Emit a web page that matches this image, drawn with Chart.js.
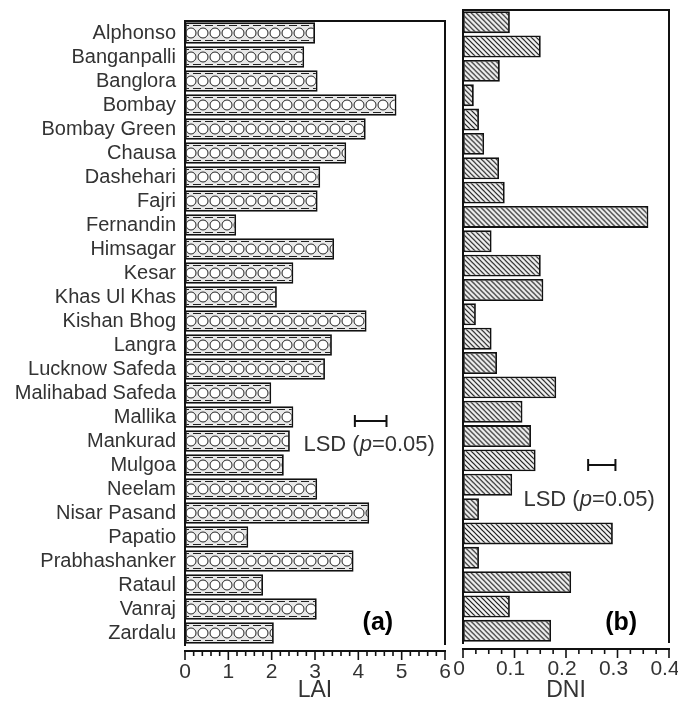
<!DOCTYPE html>
<html>
<head>
<meta charset="utf-8">
<script src="https://cdn.jsdelivr.net/npm/chart.js@4.4.0/dist/chart.umd.min.js"></script>
<style>
    body { margin: 0; background: #fff; }
    #boxA { position: absolute; left: 0; top: 0; width: 455px; height: 706px; }
    #boxB { position: absolute; left: 452px; top: 0; width: 226px; height: 706px; }
</style>
</head>
<body>
<div id="boxA"><canvas id="laiChart"></canvas></div>
<div id="boxB"><canvas id="dniChart"></canvas></div>
<script>
var cultivars = ["Alphonso", "Banganpalli", "Banglora", "Bombay", "Bombay Green", "Chausa", "Dashehari",
    "Fajri", "Fernandin", "Himsagar", "Kesar", "Khas Ul Khas", "Kishan Bhog", "Langra", "Lucknow Safeda",
    "Malihabad Safeda", "Mallika", "Mankurad", "Mulgoa", "Neelam", "Nisar Pasand", "Papatio",
    "Prabhashanker", "Rataul", "Vanraj", "Zardalu"];
var laiValues = [3.0, 2.75, 3.06, 4.88, 4.17, 3.72, 3.12, 3.06, 1.18, 3.44, 2.5, 2.12, 4.19,
    3.39, 3.23, 1.99, 2.5, 2.42, 2.28, 3.05, 4.25, 1.46, 3.89, 1.8, 3.04, 2.05];
var dniValues = [0.091, 0.151, 0.0715, 0.021, 0.031, 0.041, 0.07, 0.081, 0.36, 0.0555, 0.151, 0.156, 0.025,
    0.0555, 0.066, 0.181, 0.1155, 0.132, 0.141, 0.0955, 0.031, 0.291, 0.031, 0.21, 0.091, 0.171];
var laiTicks = [0, 1, 2, 3, 4, 5, 6];
var dniTicks = [0, 0.1, 0.2, 0.3, 0.4];
var laiLsd = [3.92, 4.65];
var dniLsd = [0.243, 0.296];

var FONT = "'Liberation Sans', Arial, Helvetica, sans-serif";
var INK = "#111";
var TEXT = "#333";

// pattern tiles for the bar fills
function circleTile() {
    var c = document.createElement("canvas");
    c.width = 12; c.height = 22;
    var g = c.getContext("2d");
    g.fillStyle = "#e8e8e8"; g.fillRect(0, 0, 12, 22);
    g.strokeStyle = "#222"; g.lineWidth = 1;
    g.beginPath(); g.moveTo(0, 3.5); g.lineTo(4, 3.5); g.moveTo(8, 3.5); g.lineTo(12, 3.5);
    g.moveTo(0, 18.5); g.lineTo(4, 18.5); g.moveTo(8, 18.5); g.lineTo(12, 18.5); g.stroke();
    g.beginPath(); g.arc(6, 11, 5, 0, Math.PI * 2);
    g.fillStyle = "#fff"; g.fill(); g.stroke();
    return c;
}
function hatchTile() {
    var c = document.createElement("canvas");
    c.width = 5; c.height = 5;
    var g = c.getContext("2d");
    g.fillStyle = "#f2f2f2"; g.fillRect(0, 0, 5, 5);
    g.strokeStyle = "#1a1a1a"; g.lineWidth = 1.2;
    g.beginPath();
    g.moveTo(-1, -1); g.lineTo(6, 6);
    g.moveTo(4, -1); g.lineTo(6, 1);
    g.moveTo(-1, 4); g.lineTo(1, 6);
    g.stroke();
    return c;
}
function barFill(tile) {
    return function (ctx) {
        var chart = ctx.chart, ys = chart.scales.y;
        if (ctx.type !== "data" || !chart.chartArea || !ys) return "#eee";
        var pat = chart.ctx.createPattern(tile, "repeat");
        var yc = ys.getPixelForValue(ctx.dataIndex);
        pat.setTransform(new DOMMatrix([1, 0, 0, 1, chart.chartArea.left, yc - tile.height / 2]));
        return pat;
    };
}

function drawLsdLabel(g, cx, cy) {
    var a = "LSD (", b = "p", c = "=0.05)";
    var normal = "22px " + FONT, italic = "italic 22px " + FONT;
    g.font = normal; var wa = g.measureText(a).width, wc = g.measureText(c).width;
    g.font = italic; var wb = g.measureText(b).width;
    var x = cx - (wa + wb + wc) / 2;
    g.fillStyle = TEXT; g.textBaseline = "middle"; g.textAlign = "left";
    g.font = normal; g.fillText(a, x, cy);
    g.font = italic; g.fillText(b, x + wa, cy);
    g.font = normal; g.fillText(c, x + wa + wb, cy);
}

// frame, offset x axis with minor ticks, LSD bar and panel letter
function panelPlugin(cfg) {
    return {
        id: "panel",
        afterDraw: function (chart) {
            var a = chart.chartArea, g = chart.ctx, xs = chart.scales.x, ys = chart.scales.y;
            g.save();
            g.strokeStyle = INK; g.lineWidth = 2;
            g.beginPath();
            g.moveTo(a.left, a.top); g.lineTo(a.right, a.top); g.lineTo(a.right, a.bottom);
            g.stroke();

            var ay = a.bottom + 6;
            g.beginPath(); g.moveTo(a.left - 1, ay); g.lineTo(a.right + 1, ay); g.stroke();
            g.lineWidth = 1.6;
            var n = Math.round((xs.max - xs.min) / cfg.minorStep);
            for (var i = 0; i <= n; i++) {
                var x = xs.getPixelForValue(xs.min + i * cfg.minorStep);
                var len = (i % cfg.minorPerMajor === 0) ? 9 : 5;
                g.beginPath(); g.moveTo(x, ay); g.lineTo(x, ay + len); g.stroke();
            }

            // LSD interval
            var ly = ys.getPixelForValue(cfg.lsdRow);
            var x0 = xs.getPixelForValue(cfg.lsd[0]), x1 = xs.getPixelForValue(cfg.lsd[1]);
            g.lineWidth = 2;
            g.beginPath();
            g.moveTo(x0, ly); g.lineTo(x1, ly);
            g.moveTo(x0, ly - 6); g.lineTo(x0, ly + 6);
            g.moveTo(x1, ly - 6); g.lineTo(x1, ly + 6);
            g.stroke();
            drawLsdLabel(g, xs.getPixelForValue(cfg.labelAt[0]), ys.getPixelForValue(cfg.labelAt[1]));

            g.fillStyle = "#000"; g.font = "bold 25px " + FONT;
            g.textAlign = "center"; g.textBaseline = "middle";
            g.fillText(cfg.letter, xs.getPixelForValue(cfg.letterAt[0]), ys.getPixelForValue(cfg.letterAt[1]));
            g.restore();
        }
    };
}

function makeChart(id, opt) {
    return new Chart(document.getElementById(id).getContext("2d"), {
        type: "bar",
        data: {
            labels: cultivars,
            datasets: [{
                data: opt.values,
                backgroundColor: barFill(opt.tile),
                borderColor: INK,
                borderWidth: 1.8,
                borderSkipped: false,
                barPercentage: 0.9,
                categoryPercentage: 1
            }]
        },
        options: {
            indexAxis: "y",
            responsive: true,
            maintainAspectRatio: false,
            animation: false,
            layout: { padding: opt.padding },
            plugins: { legend: { display: false }, tooltip: { enabled: false } },
            scales: {
                x: {
                    type: "linear",
                    min: opt.ticks[0],
                    max: opt.ticks[opt.ticks.length - 1],
                    afterBuildTicks: function (s) { s.ticks = opt.ticks.map(function (v) { return { value: v }; }); },
                    ticks: {
                        padding: opt.tickPad,
                        labelOffset: opt.labelOffset,
                        maxRotation: 0,
                        autoSkip: false,
                        color: TEXT,
                        font: { family: FONT, size: 21 },
                        callback: function (v) { return String(v); }
                    },
                    grid: { display: false, drawTicks: false },
                    border: { display: false },
                    title: { display: true, text: opt.title, color: TEXT, padding: 0,
                             font: { family: FONT, size: 23 } },
                    afterFit: function (s) { s.height = opt.xHeight; s.paddingLeft = 0; s.paddingRight = 0; }
                },
                y: {
                    ticks: {
                        display: opt.showLabels,
                        autoSkip: false,
                        padding: 9,
                        color: TEXT,
                        font: { family: FONT, size: 20 }
                    },
                    grid: { display: false, drawTicks: false },
                    border: { display: true, color: INK, width: 2 },
                    afterFit: function (s) { s.width = opt.yWidth; }
                }
            }
        },
        plugins: [panelPlugin(opt.panel)]
    });
}

document.addEventListener("DOMContentLoaded", function () {
    // (a) leaf area index
    makeChart("laiChart", {
        values: laiValues, tile: circleTile(), ticks: laiTicks, title: "LAI",
        padding: { top: 12, right: 10, left: 0, bottom: 2 },
        xHeight: 59, yWidth: 185, tickPad: 15, labelOffset: 0, showLabels: true,
        panel: { minorStep: 0.2, minorPerMajor: 5, lsd: laiLsd, lsdRow: 16.17,
                 labelAt: [4.25, 17.16], letter: "(a)", letterAt: [4.45, 24.59] }
    });

    // (b) DNI
    makeChart("dniChart", {
        values: dniValues, tile: hatchTile(), ticks: dniTicks, title: "DNI",
        padding: { top: 10, right: 9, left: 0, bottom: 2 },
        xHeight: 61, yWidth: 11, tickPad: 14, labelOffset: -4, showLabels: false,
        panel: { minorStep: 0.025, minorPerMajor: 4, lsd: dniLsd, lsdRow: 18.19,
                 labelAt: [0.245, 19.62], letter: "(b)", letterAt: [0.307, 24.67] }
    });
});
</script>
</body>
</html>
